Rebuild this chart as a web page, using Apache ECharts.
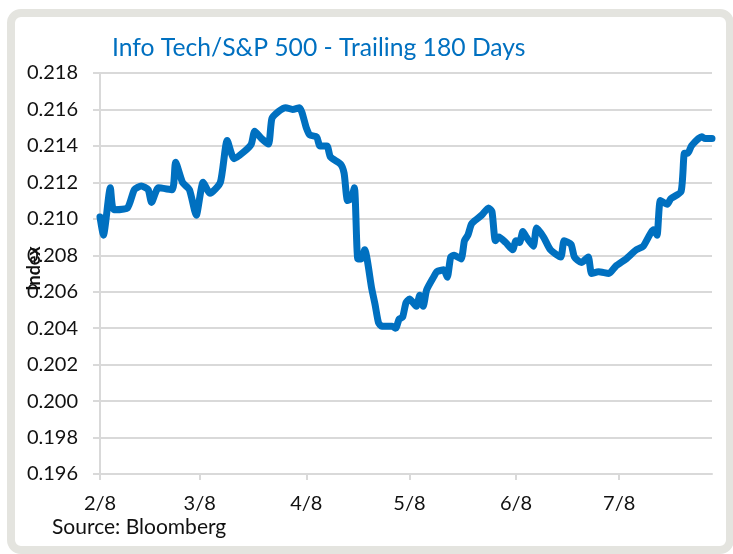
<!DOCTYPE html>
<html>
<head>
<meta charset="utf-8">
<script src="https://cdn.jsdelivr.net/npm/echarts@6/dist/echarts.min.js"></script>
<style>
  html, body { margin: 0; padding: 0; background: #ffffff; }
  #chart { width: 733px; height: 554px; }
</style>
</head>
<body>
<div id="chart"></div>
<script>
// Info Tech sector relative to the S&P 500, daily ratio
const dates = [
  '2016-02-08','2016-02-09','2016-02-11','2016-02-12','2016-02-16','2016-02-18','2016-02-20','2016-02-22','2016-02-23','2016-02-25','2016-02-29',
  '2016-03-01','2016-03-03','2016-03-05','2016-03-07','2016-03-09','2016-03-11','2016-03-14','2016-03-16','2016-03-18','2016-03-21','2016-03-23','2016-03-24','2016-03-26','2016-03-28','2016-03-29','2016-03-31',
  '2016-04-02','2016-04-04','2016-04-06','2016-04-08','2016-04-09','2016-04-11','2016-04-12','2016-04-14','2016-04-15','2016-04-18','2016-04-19','2016-04-20','2016-04-21','2016-04-22','2016-04-23','2016-04-24','2016-04-25','2016-04-27','2016-04-28','2016-04-29','2016-04-30',
  '2016-05-03','2016-05-04','2016-05-05','2016-05-06','2016-05-07','2016-05-08','2016-05-10','2016-05-11','2016-05-12','2016-05-13','2016-05-15','2016-05-16','2016-05-18','2016-05-19','2016-05-20','2016-05-21','2016-05-23','2016-05-24','2016-05-25','2016-05-26','2016-05-27','2016-05-29','2016-05-31',
  '2016-06-01','2016-06-02','2016-06-03','2016-06-05','2016-06-07','2016-06-08','2016-06-09','2016-06-10','2016-06-11','2016-06-13','2016-06-14','2016-06-16','2016-06-18','2016-06-21','2016-06-22','2016-06-24','2016-06-25','2016-06-27','2016-06-29','2016-06-30',
  '2016-07-02','2016-07-05','2016-07-07','2016-07-10','2016-07-13','2016-07-15','2016-07-18','2016-07-19','2016-07-20','2016-07-22','2016-07-23','2016-07-26','2016-07-27','2016-07-28','2016-07-29',
  '2016-08-01','2016-08-02','2016-08-04'
];

const ratio = [
  0.2101,0.2091,0.2117,0.2105,0.2106,0.2116,0.2118,0.2116,0.2109,0.2117,0.2116,
  0.2131,0.2120,0.2116,0.2102,0.2120,0.2114,0.2120,0.2143,0.2133,0.2137,0.2141,0.2148,0.2144,0.2141,0.2155,0.2159,
  0.2161,0.2160,0.2161,0.2150,0.2146,0.2145,0.2140,0.2140,0.2134,0.2130,0.2125,0.2110,0.2111,0.2117,0.2078,0.2078,0.2083,0.2062,0.2053,0.2043,0.2041,
  0.2041,0.2040,0.2045,0.2046,0.2054,0.2056,0.2052,0.2058,0.2052,0.2061,0.2068,0.2071,0.2072,0.2068,0.2079,0.2080,0.2078,0.2088,0.2091,0.2097,0.2099,0.2102,0.2106,
  0.2104,0.2088,0.2090,0.2087,0.2083,0.2088,0.2087,0.2093,0.2090,0.2085,0.2095,0.2090,0.2083,0.2079,0.2088,0.2086,0.2079,0.2076,0.2079,0.2070,
  0.2071,0.2070,0.2074,0.2078,0.2083,0.2085,0.2094,0.2091,0.2110,0.2108,0.2111,0.2115,0.2136,0.2136,0.2140,
  0.2145,0.2144,0.2144
];

// Monthly tick dates shown on the x axis
const tickDates = ['2016-02-08','2016-03-08','2016-04-08','2016-05-08','2016-06-08','2016-07-08'];
const axisStart = '2016-02-08';
const axisEnd = '2016-08-04';

const yMin = 0.196, yMax = 0.218, yStep = 0.002;

const DAY = 86400000;
function utc(s) {
  const p = s.split('-').map(Number);
  return Date.UTC(p[0], p[1] - 1, p[2]);
}
const t0 = utc(axisStart);
// x position = calendar days since the first date
function dayIndex(s) { return Math.round((utc(s) - t0) / DAY); }
function dayLabel(n) {
  const d = new Date(t0 + n * DAY);
  return (d.getUTCMonth() + 1) + '/' + d.getUTCDate();
}

const seriesData = dates.map((d, i) => [dayIndex(d), ratio[i]]);
const tickDays = tickDates.map(dayIndex);

const BLUE = '#0070C0';
const GRID = '#d9d9d9';
const FONT = 'Lato, "Open Sans", sans-serif';

const chart = echarts.init(document.getElementById('chart'), null, { renderer: 'canvas' });
chart.setOption({
  animation: false,
  backgroundColor: '#ffffff',
  title: {
    text: 'Info Tech/S&P 500 - Trailing 180 Days',
    left: 107,
    top: 31,
    textStyle: { color: BLUE, fontFamily: FONT, fontSize: 24.7, fontWeight: 'normal' }
  },
  graphic: [
    {
      type: 'rect',
      silent: true,
      shape: { x: 11, y: 13, width: 719, height: 537, r: 10 },
      style: { fill: 'none', stroke: '#e4e4df', lineWidth: 8 }
    },
    {
      type: 'text',
      left: 52,
      top: 517,
      style: { text: 'Source: Bloomberg', fill: '#111111', font: '21px ' + FONT }
    }
  ],
  grid: { left: 100, right: 21, top: 73, bottom: 80, outerBoundsMode: 'none' },
  xAxis: {
    type: 'value',
    min: 0,
    max: dayIndex(axisEnd),
    axisLine: { show: true, lineStyle: { color: GRID, width: 2 } },
    axisTick: { show: true, length: 6, customValues: tickDays, lineStyle: { color: GRID, width: 2 } },
    axisLabel: {
      customValues: tickDays,
      margin: 20,
      color: '#111111',
      fontFamily: FONT,
      fontSize: 20,
      formatter: v => dayLabel(v)
    },
    splitLine: { show: false }
  },
  yAxis: {
    type: 'value',
    min: yMin,
    max: yMax,
    interval: yStep,
    name: 'Index',
    nameLocation: 'middle',
    nameGap: 57,
    nameMoveOverlap: false,
    nameTextStyle: { color: '#111111', fontFamily: FONT, fontSize: 18, fontWeight: 'bold', padding: [0, 0, 0, 10] },
    axisLine: { show: true, lineStyle: { color: GRID, width: 2 } },
    axisTick: { show: true, length: 7, lineStyle: { color: GRID, width: 2 } },
    axisLabel: {
      margin: 22,
      color: '#111111',
      fontFamily: FONT,
      fontSize: 20,
      formatter: v => v.toFixed(3)
    },
    splitLine: { show: true, lineStyle: { color: GRID, width: 2 } }
  },
  series: [{
    type: 'line',
    data: seriesData,
    showSymbol: false,
    smooth: 0.2,
    lineStyle: { color: BLUE, width: 7, cap: 'round', join: 'round' }
  }]
});
</script>
</body>
</html>
